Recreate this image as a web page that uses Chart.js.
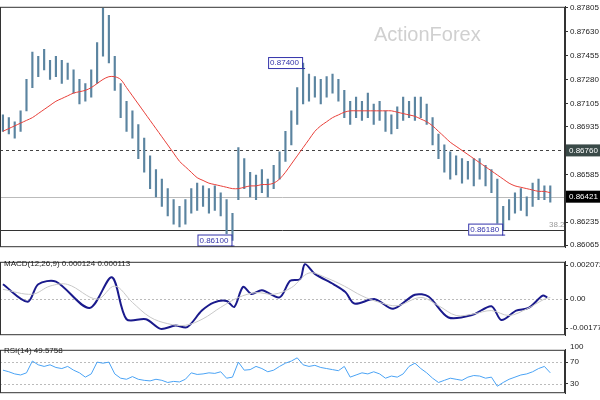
<!DOCTYPE html>
<html><head><meta charset="utf-8">
<script src="https://cdn.jsdelivr.net/npm/chart.js@4/dist/chart.umd.min.js"></script>
<style>
body{margin:0;background:#fff;width:600px;height:400px;overflow:hidden;position:relative;font-family:"Liberation Sans",sans-serif}
.p{position:absolute;left:0;width:600px}
</style></head><body>
<div class="p" style="top:0;height:254px"><canvas id="c1" width="600" height="254"></canvas></div>
<div class="p" style="top:255px;height:87px"><canvas id="c2" width="600" height="87"></canvas></div>
<div class="p" style="top:343px;height:57px"><canvas id="c3" width="600" height="57"></canvas></div>
<script>
const lows=[0.8690,0.8688,0.8685,0.8690,0.8705,0.8722,0.8730,0.8735,0.8728,0.8730,0.8725,0.8728,0.8718,0.8710,0.8712,0.8715,0.8725,0.8745,0.8740,0.8720,0.8700,0.8690,0.8685,0.8670,0.8660,0.8648,0.8642,0.8635,0.8628,0.8622,0.8620,0.8622,0.8630,0.8632,0.8635,0.8630,0.8632,0.8628,0.8615,0.8610,0.8640,0.8648,0.8642,0.8640,0.8645,0.8642,0.8648,0.8655,0.8668,0.8680,0.8695,0.8710,0.8712,0.8715,0.8710,0.8715,0.8718,0.8712,0.8700,0.8695,0.8700,0.8698,0.8700,0.8695,0.8698,0.8690,0.8688,0.8692,0.8698,0.8700,0.8698,0.8700,0.8695,0.8680,0.8670,0.8660,0.8655,0.8658,0.8652,0.8655,0.8650,0.8655,0.8650,0.8645,0.8620,0.8618,0.8625,0.8630,0.8632,0.8628,0.8635,0.8640,0.8640,0.8638];
const highs=[0.8702,0.8700,0.8697,0.8705,0.8728,0.8748,0.8745,0.8750,0.8742,0.8745,0.8742,0.8740,0.8735,0.8728,0.8725,0.8735,0.8755,0.8780,0.8775,0.8745,0.8725,0.8712,0.8705,0.8695,0.8685,0.8672,0.8662,0.8655,0.8648,0.8640,0.8635,0.8640,0.8648,0.8652,0.8650,0.8648,0.8650,0.8645,0.8640,0.8630,0.8678,0.8670,0.8660,0.8658,0.8662,0.8655,0.8665,0.8675,0.8690,0.8705,0.8722,0.8740,0.8732,0.8730,0.8728,0.8730,0.8732,0.8728,0.8720,0.8712,0.8715,0.8712,0.8718,0.8710,0.8712,0.8705,0.8702,0.8708,0.8715,0.8712,0.8715,0.8715,0.8710,0.8700,0.8688,0.8680,0.8675,0.8672,0.8670,0.8668,0.8670,0.8670,0.8665,0.8662,0.8655,0.8635,0.8640,0.8645,0.8648,0.8642,0.8652,0.8655,0.8650,0.8650];
const ma=[0.8690,0.8692,0.8694,0.8696,0.8698,0.8700,0.8703,0.8706,0.8709,0.8712,0.8714,0.8716,0.8718,0.8719,0.8720,0.8722,0.8725,0.8728,0.8730,0.8730,0.8728,0.8722,0.8716,0.8710,0.8704,0.8698,0.8692,0.8686,0.8680,0.8674,0.8668,0.8664,0.8660,0.8656,0.8654,0.8652,0.8651,0.8650,0.8649,0.8648,0.8648,0.8649,0.8650,0.8650,0.8651,0.8651,0.8652,0.8655,0.8660,0.8666,0.8672,0.8678,0.8684,0.8690,0.8694,0.8697,0.8700,0.8702,0.8704,0.8705,0.8705,0.8705,0.8705,0.8705,0.8705,0.8705,0.8705,0.8704,0.8703,0.8702,0.8701,0.8699,0.8697,0.8694,0.8690,0.8686,0.8682,0.8679,0.8676,0.8673,0.8670,0.8667,0.8664,0.8661,0.8658,0.8655,0.8652,0.8650,0.8649,0.8648,0.8647,0.8646,0.8646,0.8645];
const priceTicks=[0.87805,0.87630,0.87455,0.87280,0.87105,0.86935,0.86760,0.86585,0.86421,0.86235,0.86065];
const macdIdx=[0,4.2,6,9,14.7,18.5,21,24.3,26.8,29.3,31.3,33.8,35.8,38,39.3,40.8,42.2,44,47,48.8,50.5,51.3,53,56.2,58.2,59.7,63.2,66.3,70,72.3,75.7,79.8,83,84.7,87.2,89.3,91.7,92.5];
const macdVal=[0.00091,-0.00016,0.00091,0.00107,-0.00054,0.00134,-0.00123,-0.00123,-0.00182,-0.00161,-0.00171,-0.00070,-0.00021,-0.00011,-0.00048,0.00075,0.00032,0.00054,0.00011,0.00112,0.00123,0.00214,0.00155,0.00091,0.00043,-0.00027,0,-0.00059,0.00027,0.00016,-0.00112,-0.00096,-0.00043,-0.00128,-0.00070,-0.00054,0.00021,0.00011];
const sigIdx=[0,5,8,11,16,19,22,25,28,31,34,37,40,43,46,49,52,55,58,61,64,67,71,74,77,80,83,86,89,92,93];
const sigVal=[0.0006,0.0003,0.0008,0.0009,0.0000,0.0008,-0.0002,-0.0011,-0.0015,-0.0016,-0.0012,-0.0005,0.0001,0.0004,0.0003,0.0007,0.0016,0.0013,0.0008,0.0002,-0.0002,-0.0004,0.0001,-0.0004,-0.0010,-0.0009,-0.0007,-0.0010,-0.0006,0.0000,0.0001];
const rsi=[55,52,48,46,50,72,65,62,65,60,58,62,55,50,42,48,70,68,70,48,40,38,43,38,36,35,38,36,32,34,33,38,50,47,48,50,49,52,40,42,70,55,56,62,58,52,55,62,68,72,78,65,62,64,60,58,56,54,62,42,46,50,48,52,48,40,44,42,48,62,68,58,50,40,32,36,40,38,36,42,45,44,40,42,25,32,38,42,46,48,52,58,62,50];

const F='"Liberation Sans",sans-serif';
const xScale={type:'linear',display:false,min:-0.5,max:95.5,offset:false};
function yAxis(min,max,ticks,fmt){return {position:'right',min,max,
  afterFit:s=>{s.width=35},
  afterBuildTicks:s=>{s.ticks=ticks.map(v=>({value:v}))},
  grid:{drawOnChartArea:false,drawTicks:true,tickLength:3,color:'#333'},
  border:{color:'#333'},
  ticks:{font:{family:F,size:8},color:'#222',padding:2,autoSkip:false,callback:fmt}};}
function frame(texts){return {id:'frame',afterDraw(c){const a=c.chartArea,x=c.ctx;x.save();x.strokeStyle='#333';x.lineWidth=1;
  x.strokeRect(a.left+0.5,a.top+0.5,a.right-a.left-1,a.bottom-a.top-1);
  x.font='8px '+F;x.fillStyle='#222';x.textBaseline='top';(texts||[]).forEach(t=>x.fillText(t[0],t[1],t[2]));x.restore();}};}
function hline(c,v,color,dash){const a=c.chartArea,y=Math.round(c.scales.y.getPixelForValue(v))+0.5,x=c.ctx;x.save();x.strokeStyle=color;x.setLineDash(dash||[]);x.beginPath();x.moveTo(a.left,y);x.lineTo(a.right,y);x.stroke();x.restore();return y;}
const base={responsive:false,animation:false,events:[],plugins:{legend:{display:false},tooltip:{enabled:false}}};

const ohlc=lows.map((l,i)=>({x:i,y:[l,highs[i]]}));
const maPts=ma.map((v,i)=>({x:i,y:v}));
new Chart(document.getElementById('c1'),{
 data:{datasets:[
  {type:'bar',data:ohlc,backgroundColor:'#5b84a0',barThickness:1.5,order:2},
  {type:'line',data:maPts,borderColor:'#e8403a',borderWidth:1,pointRadius:0,tension:0.3,order:1}]},
 options:{...base,layout:{padding:{top:1,bottom:1,left:0,right:0}},
  scales:{x:xScale,y:yAxis(0.86051,0.87812,priceTicks,v=>v.toFixed(5))}},
 plugins:[{id:'ann',beforeDatasetsDraw(c){
   hline(c,0.86760,'#444',[3,3]);hline(c,0.86421,'#bbb');hline(c,0.86180,'#333');
   const x=c.ctx;x.save();x.font='20px '+F;x.fillStyle='#d0d0d0';x.fillText('ActionForex',374,41);x.restore();},
  afterDraw(c){const x=c.ctx,a=c.chartArea,ys=c.scales.y,xs=c.scales.x;x.save();x.font='8px '+F;x.textBaseline='middle';
   [[0.86760,'#3a4a48','#fff'],[0.86421,'#000','#fff']].forEach(([v,bg,fg])=>{const y=ys.getPixelForValue(v);x.fillStyle=bg;x.fillRect(a.right+1,y-6,35,12);x.fillStyle=fg;x.fillText(v.toFixed(5),a.right+4,y+0.5);});
   [[0.87400,51],[0.86100,39],[0.86180,85]].forEach(([v,i])=>{const py=ys.getPixelForValue(v);const w=34;const left=xs.getPixelForValue(i)-w-1;
     x.fillStyle='#fff';x.fillRect(left,py-6,w,11);x.strokeStyle='#33a';x.strokeRect(left+0.5,py-5.5,w,11);x.fillStyle='#33a';x.fillText(v.toFixed(5),left+2,py);
     x.beginPath();x.moveTo(left+w,py+5.5);x.lineTo(xs.getPixelForValue(i)+2,py+5.5);x.stroke();});
   x.fillStyle='#999';x.fillText('38.2',549,ys.getPixelForValue(0.86180)-5);x.restore();}},frame()]
});

new Chart(document.getElementById('c2'),{
 data:{datasets:[
  {type:'line',data:sigIdx.map((v,i)=>({x:v,y:sigVal[i]})),borderColor:'#c8c8c8',borderWidth:1,pointRadius:0,tension:0.35},
  {type:'line',data:macdIdx.map((v,i)=>({x:v,y:macdVal[i]})),borderColor:'#1a1a8c',borderWidth:2,pointRadius:0,tension:0.3}]},
 options:{...base,layout:{padding:{top:1,bottom:1}},
  scales:{x:xScale,y:yAxis(-0.002206,0.002286,[0.002072,0,-0.001778],v=>v===0?'0.00':v.toFixed(6))}},
 plugins:[{id:'z',beforeDatasetsDraw(c){hline(c,0,'#bbb',[2,2]);}},frame([['MACD(12,26,9) 0.000124 0.000113',4,5]])]
});

new Chart(document.getElementById('c3'),{
 data:{datasets:[{type:'line',data:rsi.map((v,i)=>({x:i,y:v})),borderColor:'#4aa3f5',borderWidth:1,pointRadius:0}]},
 options:{...base,layout:{padding:{top:1,bottom:0}},
  scales:{x:xScale,y:yAxis(12,93,[70,30],v=>String(v))}},
 plugins:[{id:'z',beforeDatasetsDraw(c){hline(c,70,'#bbb',[2,2]);hline(c,30,'#bbb',[2,2]);}},frame([['RSI(14) 49.5758',4,4],['100',570,0]])]
});
</script></body></html>
